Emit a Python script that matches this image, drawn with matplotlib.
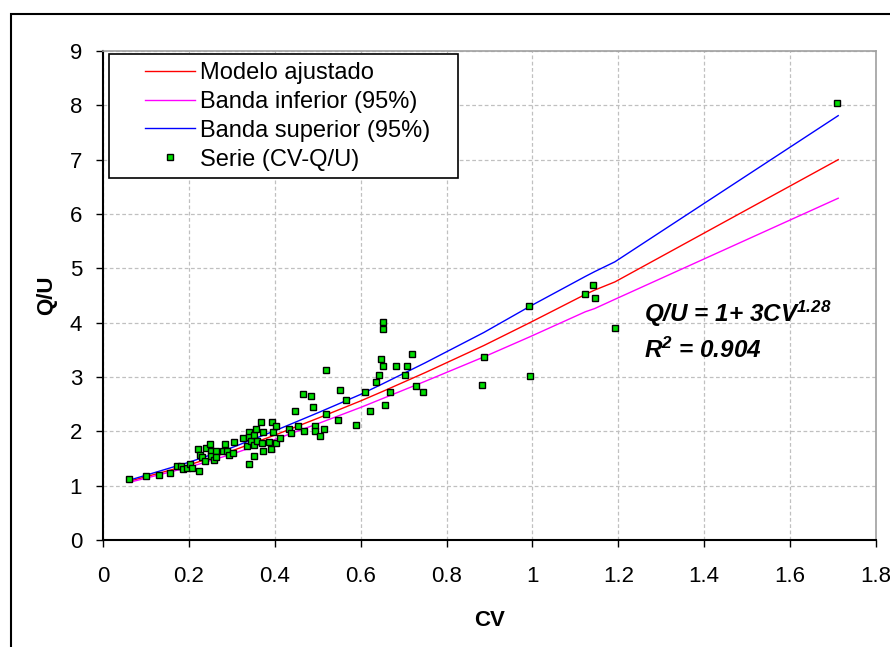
import matplotlib
matplotlib.use("Agg")
import matplotlib.pyplot as plt
from matplotlib.patches import Rectangle

plt.rcParams['font.family'] = ['Liberation Sans', 'DejaVu Sans']
plt.rcParams['mathtext.fontset'] = 'custom'
plt.rcParams['mathtext.rm'] = 'Liberation Sans:bold:italic'
plt.rcParams['mathtext.it'] = 'Liberation Sans:bold:italic'
plt.rcParams['mathtext.bf'] = 'Liberation Sans:bold:italic'

cv = [0.061, 0.101, 0.131, 0.156, 0.172, 0.182, 0.186, 0.195, 0.203, 0.208,
      0.224, 0.221, 0.226, 0.230, 0.238, 0.241, 0.250, 0.251, 0.252, 0.259,
      0.263, 0.264, 0.279, 0.285, 0.289, 0.293, 0.302, 0.306, 0.325, 0.335,
      0.340, 0.341, 0.340, 0.345, 0.352, 0.352, 0.352, 0.357, 0.359, 0.369,
      0.370, 0.373, 0.373, 0.387, 0.391, 0.394, 0.395, 0.403, 0.403, 0.411,
      0.434, 0.438, 0.446, 0.455, 0.466, 0.468, 0.484, 0.490, 0.493, 0.494,
      0.506, 0.515, 0.520, 0.548, 0.553, 0.566, 0.588, 0.610, 0.622, 0.636,
      0.657, 0.651, 0.651, 0.720, 0.647, 0.651, 0.682, 0.708, 0.643, 0.703,
      0.669, 0.730, 0.746, 0.887, 0.883, 0.519, 0.991, 0.994, 1.123, 1.140,
      1.145, 1.192, 1.709]
qu = [1.13, 1.17, 1.19, 1.24, 1.37, 1.36, 1.30, 1.33, 1.40, 1.33,
      1.27, 1.67, 1.56, 1.52, 1.46, 1.70, 1.77, 1.63, 1.55, 1.47,
      1.63, 1.53, 1.64, 1.77, 1.64, 1.56, 1.61, 1.81, 1.88, 1.73,
      1.40, 1.98, 1.90, 1.82, 1.94, 1.54, 1.74, 2.04, 1.82, 2.18,
      1.78, 1.98, 1.64, 1.80, 1.67, 2.18, 1.99, 2.09, 1.78, 1.87,
      2.04, 1.97, 2.38, 2.09, 2.68, 2.01, 2.65, 2.45, 2.10, 2.01,
      1.91, 2.04, 2.31, 2.21, 2.76, 2.58, 2.11, 2.72, 2.38, 2.90,
      2.48, 4.01, 3.88, 3.43, 3.33, 3.20, 3.20, 3.20, 3.03, 3.03,
      2.72, 2.83, 2.72, 3.37, 2.85, 3.13, 4.31, 3.02, 4.52, 4.69,
      4.45, 3.91, 8.05]

linea_cv = [0.061, 0.2, 0.3, 0.4, 0.5, 0.6, 0.65, 0.75, 0.887, 0.994, 1.123, 1.145, 1.192, 1.712]
modelo = [1.08, 1.38, 1.64, 1.93, 2.24, 2.56, 2.73, 3.08, 3.58, 4.00, 4.52, 4.60, 4.75, 7.00]
banda_sup = [1.10, 1.43, 1.70, 2.01, 2.34, 2.68, 2.87, 3.26, 3.82, 4.30, 4.85, 4.94, 5.12, 7.81]
banda_inf = [1.06, 1.34, 1.58, 1.85, 2.14, 2.44, 2.60, 2.92, 3.37, 3.74, 4.20, 4.26, 4.43, 6.29]

fig = plt.figure(figsize=(8.9, 6.47), dpi=100)
ax = fig.add_axes([103/890, 1-540/647, (876-103)/890, (540-51)/647])

# marco exterior del grafico
fig.patches.append(Rectangle((10.5/890, -0.1), 1.2, 1-13.5/647+0.1, transform=fig.transFigure,
                             fill=False, edgecolor='black', linewidth=1.5))

ax.plot(linea_cv, modelo, color='#ff0000', lw=1.0, label='Modelo ajustado', zorder=3)
ax.plot(linea_cv, banda_inf, color='#ff00ff', lw=1.0, label='Banda inferior (95%)', zorder=3)
ax.plot(linea_cv, banda_sup, color='#0000ff', lw=1.0, label='Banda superior (95%)', zorder=3)
ax.plot(cv, qu, 's', color='#00dd00', markeredgecolor='black', markeredgewidth=1.0,
        markersize=5, label='Serie (CV-Q/U)', zorder=4)

ax.set_xlim(0, 1.8)
ax.set_ylim(0, 9)
ax.set_xticks([0, 0.2, 0.4, 0.6, 0.8, 1, 1.2, 1.4, 1.6, 1.8])
ax.set_xticklabels(['0', '0.2', '0.4', '0.6', '0.8', '1', '1.2', '1.4', '1.6', '1.8'])
ax.set_yticks(range(0, 10))
ax.grid(True, color='#c0c0c0', linestyle=(0, (3, 2)), linewidth=0.9)
ax.set_axisbelow(True)

for s in ['left', 'bottom']:
    ax.spines[s].set_color('black')
    ax.spines[s].set_linewidth(1.5)
for s in ['top', 'right']:
    ax.spines[s].set_color('#a0a0a0')
    ax.spines[s].set_linewidth(1.2)

ax.tick_params(axis='x', direction='out', length=5, width=1, labelsize=16, pad=14)
ax.tick_params(axis='y', direction='out', length=5, width=1, labelsize=16, pad=10)

ax.set_xlabel('CV', fontsize=16, fontweight='bold', labelpad=16)
ax.set_ylabel('Q/U', fontsize=16, fontweight='bold', labelpad=9)

# leyenda: marco dibujado aparte para dejar el margen izquierdo del original
ax.add_patch(Rectangle((6/773, 1-178/489+51/489), 349/773, 124/489, transform=ax.transAxes,
                       facecolor='white', edgecolor='black', linewidth=1.2, zorder=5))
leg = ax.legend(loc='upper left', bbox_to_anchor=(42/773, 1-11/489), fontsize=17, numpoints=1,
                frameon=False, handlelength=2.1, handletextpad=0.25, labelspacing=0.29,
                borderpad=0, borderaxespad=0)
leg.set_zorder(6)

ax.text(1.26, 4.16, 'Q/U = 1+ 3CV$^{1.28}$', fontsize=17.5, fontstyle='italic',
        fontweight='bold', va='center', ha='left')
ax.text(1.26, 3.5, 'R$^{2}$ = 0.904', fontsize=17.5, fontstyle='italic',
        fontweight='bold', va='center', ha='left')

fig.savefig('out.png', dpi=100)
